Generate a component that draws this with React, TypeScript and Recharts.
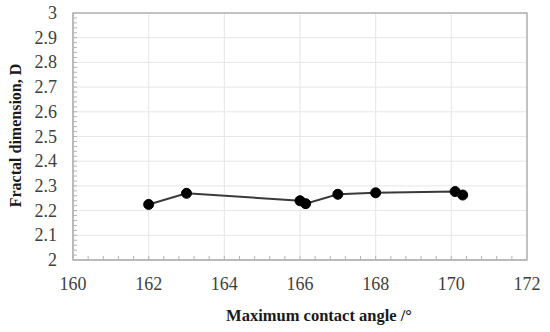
import { CartesianGrid, Line, LineChart, ReferenceArea, XAxis, YAxis } from "recharts";

const contactAngle = [162, 163, 166, 166.15, 167, 168, 170.1, 170.3];
const fractalDim = [2.225, 2.27, 2.24, 2.228, 2.266, 2.272, 2.277, 2.263];

const xMajor = [160, 162, 164, 166, 168, 170, 172];
const yMajor = [2, 2.1, 2.2, 2.3, 2.4, 2.5, 2.6, 2.7, 2.8, 2.9, 3];

// minor ticks: 5 per major interval
const xMinor = Array.from({ length: 31 }, (_, i) => +(160 + i * 0.4).toFixed(1));
const yMinor = Array.from({ length: 51 }, (_, i) => +(2 + i * 0.02).toFixed(2));

const data = contactAngle.map((x, i) => ({ x, d: fractalDim[i] }));

const X_DOMAIN = [160, 172];
const Y_DOMAIN = [2, 3];

const font = '"Liberation Serif", "Times New Roman", serif';
const axisColor = "#b3b3b3";

const XTick = ({ x, y, payload }: any) => {
    const major = xMajor.some((m) => Math.abs(m - payload.value) < 1e-6);
    return (
        <g>
            {payload.value > 160 && payload.value < 172 && (
                <line x1={x} x2={x} y1={y} y2={y - 4} stroke={axisColor} />
            )}
            {major && (
                <text x={x} y={y + 30} textAnchor="middle" fontFamily={font} fontSize={18} fill="#404040">
                    {payload.value}
                </text>
            )}
        </g>
    );
};

const YTick = ({ x, y, payload }: any) => {
    const major = yMajor.some((m) => Math.abs(m - payload.value) < 1e-6);
    return (
        <g>
            {payload.value > 2 && payload.value < 3 && (
                <line x1={x} x2={x + 4} y1={y} y2={y} stroke={axisColor} />
            )}
            {major && (
                <text x={x - 16} y={y + 6} textAnchor="end" fontFamily={font} fontSize={18} fill="#404040">
                    {payload.value}
                </text>
            )}
        </g>
    );
};

export default function App() {
    return (
        <div style={{ position: "absolute", left: 0, top: 0, background: "#fff" }}>
            <LineChart width={550} height={332} data={data} margin={{ top: 13, right: 23, left: 0, bottom: 0 }}>
                <CartesianGrid
                    stroke="#e6e6e6"
                    verticalCoordinatesGenerator={({ offset }: any) =>
                        xMajor.map((v) => offset.left + ((v - X_DOMAIN[0]) / (X_DOMAIN[1] - X_DOMAIN[0])) * offset.width)
                    }
                    horizontalCoordinatesGenerator={({ offset }: any) =>
                        yMajor.map((v) => offset.top + ((Y_DOMAIN[1] - v) / (Y_DOMAIN[1] - Y_DOMAIN[0])) * offset.height)
                    }
                />
                <XAxis
                    dataKey="x"
                    type="number"
                    domain={X_DOMAIN}
                    ticks={xMinor}
                    interval={0}
                    height={72}
                    tickSize={0}
                    tickMargin={0}
                    tickLine={false}
                    axisLine={{ stroke: axisColor }}
                    tick={<XTick />}
                    label={{
                        content: ({ viewBox }: any) => (
                            <text
                                x={viewBox.x + viewBox.width / 2 + 19}
                                y={viewBox.y + 61}
                                textAnchor="middle"
                                fontFamily={font}
                                fontSize={16.5}
                                fontWeight="bold"
                                fill="#1a1a1a"
                            >
                                Maximum contact angle /°
                            </text>
                        ),
                    }}
                />
                <YAxis
                    type="number"
                    domain={Y_DOMAIN}
                    ticks={yMinor}
                    interval={0}
                    width={73}
                    tickSize={0}
                    tickMargin={0}
                    tickLine={false}
                    axisLine={{ stroke: axisColor }}
                    tick={<YTick />}
                    label={{
                        content: ({ viewBox }: any) => {
                            const cx = 15;
                            const cy = viewBox.y + viewBox.height / 2 - 1;
                            return (
                                <text
                                    x={cx}
                                    y={cy}
                                    transform={`rotate(-90 ${cx} ${cy})`}
                                    textAnchor="middle"
                                    dominantBaseline="central"
                                    fontFamily={font}
                                    fontSize={16}
                                    fontWeight="bold"
                                    fill="#1a1a1a"
                                >
                                    Fractal dimension, D
                                </text>
                            );
                        },
                    }}
                />
                <ReferenceArea x1={160} x2={172} y1={2} y2={3} fill="none" stroke={axisColor} strokeWidth={1.5} />
                <Line
                    type="linear"
                    dataKey="d"
                    stroke="#3a3a3a"
                    strokeWidth={2}
                    dot={{ r: 5, fill: "#000", stroke: "#000", strokeWidth: 1 }}
                    activeDot={false}
                    isAnimationActive={false}
                />
            </LineChart>
        </div>
    );
}
